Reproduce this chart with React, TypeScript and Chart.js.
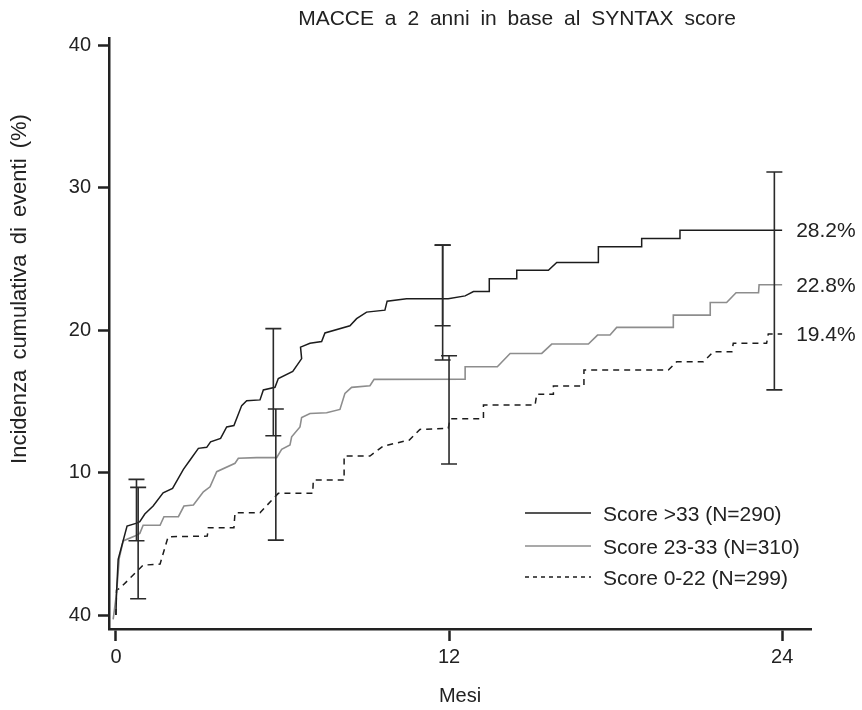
import React, { useEffect, useRef } from "react";
import { Chart, registerables } from "chart.js";

Chart.register(...registerables);

const chartTitle = "MACCE a 2 anni in base al SYNTAX score";
const yAxisTitle = "Incidenza cumulativa di eventi (%)";
const xAxisTitle = "Mesi";

const xTicks = [0, 12, 24];
const yTicks = [0, 10, 20, 30, 40];
const yTickLabels = ["40", "10", "20", "30", "40"];

const seriesNames = ["Score >33 (N=290)", "Score 23-33 (N=310)", "Score 0-22 (N=299)"];
const endLabels = ["28.2%", "22.8%", "19.4%"];

const highMonths = [0, 0.02, 0.08, 0.4, 0.75, 0.86, 1.04, 1.34, 1.7, 2.04, 2.43, 2.69, 2.97, 3.27, 3.41, 3.77, 3.99, 4.25, 4.53, 4.71, 5.19, 5.31, 5.73, 5.85, 6.37, 6.69, 6.65, 6.99, 7.41, 7.53, 8.43, 8.67, 9.03, 9.69, 9.77, 10.47, 11.97, 12.58, 12.88, 13.45, 13.45, 14.44, 14.44, 15.58, 15.88, 17.38, 17.38, 18.94, 18.94, 20.32, 20.32, 24.0];
const highRates = [0, 1.5, 3.9, 6.25, 6.45, 6.55, 7.09, 7.65, 8.58, 8.89, 10.22, 10.93, 11.7, 11.77, 12.16, 12.4, 13.2, 13.3, 14.7, 15.04, 15.1, 15.8, 15.98, 16.6, 17.1, 18.0, 18.8, 19.07, 19.2, 19.8, 20.3, 20.8, 21.26, 21.4, 22.03, 22.2, 22.2, 22.4, 22.7, 22.7, 23.6, 23.6, 24.2, 24.2, 24.75, 24.75, 25.85, 25.85, 26.43, 26.43, 27.0, 27.0];

const midMonths = [-0.1, 0.02, 0.12, 0.26, 0.68, 0.86, 0.98, 1.59, 1.73, 2.25, 2.45, 2.79, 3.15, 3.39, 3.63, 4.29, 4.41, 5.07, 5.79, 5.97, 6.27, 6.33, 6.63, 6.69, 6.99, 7.59, 8.07, 8.25, 8.49, 9.15, 9.3, 12.58, 12.58, 13.74, 14.2, 15.34, 15.7, 17.02, 17.35, 17.8, 18.04, 20.08, 20.08, 21.41, 21.41, 22.0, 22.34, 23.15, 23.17, 24.0];
const midRates = [-0.3, 1.5, 4.0, 5.2, 5.54, 5.73, 6.3, 6.3, 6.9, 6.9, 7.65, 7.72, 8.65, 9.0, 10.06, 10.65, 11.0, 11.05, 11.05, 11.63, 11.93, 12.51, 13.2, 13.87, 14.15, 14.2, 14.43, 15.56, 15.98, 16.09, 16.54, 16.56, 17.43, 17.43, 18.36, 18.36, 19.02, 19.02, 19.65, 19.65, 20.19, 20.19, 21.05, 21.05, 21.94, 21.94, 22.62, 22.62, 23.18, 23.18];

const lowMonths = [0, 0.02, 0.14, 0.74, 0.98, 1.59, 1.88, 3.29, 3.33, 4.25, 4.29, 5.19, 5.73, 5.85, 7.09, 7.11, 8.22, 8.22, 9.15, 9.63, 10.57, 10.95, 11.97, 12.04, 13.24, 13.24, 15.1, 15.16, 15.76, 15.76, 16.86, 16.86, 19.9, 20.2, 21.16, 21.52, 22.19, 22.24, 23.44, 23.5, 24.0];
const lowRates = [0, 1.75, 1.87, 3.04, 3.5, 3.58, 5.5, 5.54, 6.13, 6.13, 7.18, 7.18, 8.3, 8.54, 8.54, 9.47, 9.47, 11.16, 11.16, 11.86, 12.28, 13.03, 13.1, 13.78, 13.78, 14.74, 14.74, 15.5, 15.5, 16.07, 16.07, 17.19, 17.19, 17.78, 17.78, 18.48, 18.48, 19.07, 19.07, 19.72, 19.72];

const errMonths = [0.74, 0.8, 5.67, 5.76, 11.77, 11.77, 12.0, 23.72];
const errLow = [5.21, 1.14, 12.58, 5.26, 17.9, 20.3, 10.6, 15.8];
const errHigh = [9.52, 8.96, 20.1, 14.46, 25.96, 25.96, 18.2, 31.1];

const FONT = '"Liberation Sans", Arial, Helvetica, sans-serif';
const TEXT = "#222222";
const DARK = "#1c1c1c";
const GREY = "#8d8d8d";

const toPoints = (xs: number[], ys: number[]) => xs.map((v, i) => ({ x: v, y: ys[i] }));

const styles = [
  { color: DARK, dash: [] as number[], width: 1.5 },
  { color: GREY, dash: [] as number[], width: 1.6 },
  { color: DARK, dash: [6, 5], width: 1.5 },
];

const setWordSpacing = (ctx: any, v: string) => {
  try {
    ctx.wordSpacing = v;
  } catch (e) {}
};

const extrasPlugin = {
  id: "extras",
  afterDraw(chart: any) {
    const { ctx, scales } = chart;
    const xs = scales.x;
    const ys = scales.y;
    ctx.save();

    // error bars
    ctx.strokeStyle = "#2a2a2a";
    ctx.lineWidth = 1.6;
    ctx.setLineDash([]);
    errMonths.forEach((m, i) => {
      const px = xs.getPixelForValue(m);
      const top = ys.getPixelForValue(errHigh[i]);
      const bot = ys.getPixelForValue(errLow[i]);
      ctx.beginPath();
      ctx.moveTo(px, top);
      ctx.lineTo(px, bot);
      ctx.moveTo(px - 8, top);
      ctx.lineTo(px + 8, top);
      ctx.moveTo(px - 8, bot);
      ctx.lineTo(px + 8, bot);
      ctx.stroke();
    });

    // end labels
    ctx.fillStyle = TEXT;
    ctx.font = `21px ${FONT}`;
    ctx.textAlign = "left";
    ctx.textBaseline = "middle";
    const ends = [highRates, midRates, lowRates];
    const endMonths = [highMonths, midMonths, lowMonths];
    ends.forEach((arr, i) => {
      const mArr = endMonths[i];
      const px = xs.getPixelForValue(mArr[mArr.length - 1]) + 14;
      const py = ys.getPixelForValue(arr[arr.length - 1]) + 1;
      ctx.fillText(endLabels[i], px, py);
    });

    // legend
    const rows = [513, 546, 577];
    seriesNames.forEach((name, i) => {
      const st = styles[i];
      ctx.strokeStyle = st.color;
      ctx.lineWidth = st.width;
      ctx.setLineDash(st.dash.length ? [4, 4] : []);
      ctx.beginPath();
      ctx.moveTo(525, rows[i]);
      ctx.lineTo(591, rows[i]);
      ctx.stroke();
      ctx.setLineDash([]);
      ctx.fillStyle = TEXT;
      ctx.font = `21px ${FONT}`;
      ctx.textAlign = "left";
      ctx.textBaseline = "middle";
      ctx.fillText(name, 603, rows[i] + 2);
    });

    // title
    ctx.font = `21px ${FONT}`;
    ctx.textAlign = "center";
    ctx.textBaseline = "middle";
    setWordSpacing(ctx, "5px");
    ctx.fillText(chartTitle, 517, 19);
    setWordSpacing(ctx, "0px");

    // y axis title
    ctx.save();
    ctx.translate(20, 289);
    ctx.rotate(-Math.PI / 2);
    ctx.font = `22px ${FONT}`;
    ctx.textAlign = "center";
    ctx.textBaseline = "middle";
    setWordSpacing(ctx, "4px");
    ctx.fillText(yAxisTitle, 0, 0);
    setWordSpacing(ctx, "0px");
    ctx.restore();

    ctx.restore();
  },
};

export default function App() {
  const canvasRef = useRef<HTMLCanvasElement | null>(null);

  useEffect(() => {
    if (!canvasRef.current) return;
    const seriesData = [
      toPoints(highMonths, highRates),
      toPoints(midMonths, midRates),
      toPoints(lowMonths, lowRates),
    ];
    const chart = new Chart(canvasRef.current, {
      type: "line",
      data: {
        datasets: seriesData.map((d, i) => ({
          label: seriesNames[i],
          data: d,
          borderColor: styles[i].color,
          borderWidth: styles[i].width,
          borderDash: styles[i].dash,
          pointRadius: 0,
          tension: 0,
          fill: false,
        })),
      },
      options: {
        animation: false,
        responsive: true,
        maintainAspectRatio: false,
        layout: { padding: { top: 38, right: 51, left: 0, bottom: 0 } },
        plugins: {
          legend: { display: false },
          title: { display: false },
          tooltip: { enabled: false },
        },
        scales: {
          x: {
            type: "linear",
            min: -0.25,
            max: 25.04,
            afterBuildTicks: (s: any) => {
              s.ticks = xTicks.map((v) => ({ value: v }));
            },
            afterFit: (s: any) => {
              s.height = 81;
            },
            ticks: {
              autoSkip: false,
              maxRotation: 0,
              padding: 4,
              color: TEXT,
              font: { family: FONT, size: 20 },
              callback: (v: any) => String(v),
            },
            grid: {
              display: true,
              drawOnChartArea: false,
              drawTicks: true,
              tickLength: 12,
              tickWidth: 2.5,
              tickColor: "#222",
            },
            border: { display: true, color: "#222", width: 2.5 },
            title: {
              display: true,
              text: xAxisTitle,
              color: TEXT,
              font: { family: FONT, size: 20 },
              padding: { top: 0, bottom: 2 },
            },
          },
          y: {
            type: "linear",
            min: -0.98,
            max: 40.5,
            afterBuildTicks: (s: any) => {
              s.ticks = yTicks.map((v) => ({ value: v }));
            },
            afterFit: (s: any) => {
              s.width = 109;
            },
            ticks: {
              autoSkip: false,
              padding: 7,
              color: TEXT,
              font: { family: FONT, size: 20 },
              callback: (_v: any, i: number) => yTickLabels[i],
            },
            grid: {
              display: true,
              drawOnChartArea: false,
              drawTicks: true,
              tickLength: 11,
              tickWidth: 2.5,
              tickColor: "#222",
            },
            border: { display: true, color: "#222", width: 2.5 },
          },
        },
      },
      plugins: [extrasPlugin],
    } as any);
    return () => chart.destroy();
  }, []);

  return (
    <div style={{ position: "absolute", left: 0, top: 0, width: 862, height: 710, background: "#fff" }}>
      <canvas ref={canvasRef} />
    </div>
  );
}
